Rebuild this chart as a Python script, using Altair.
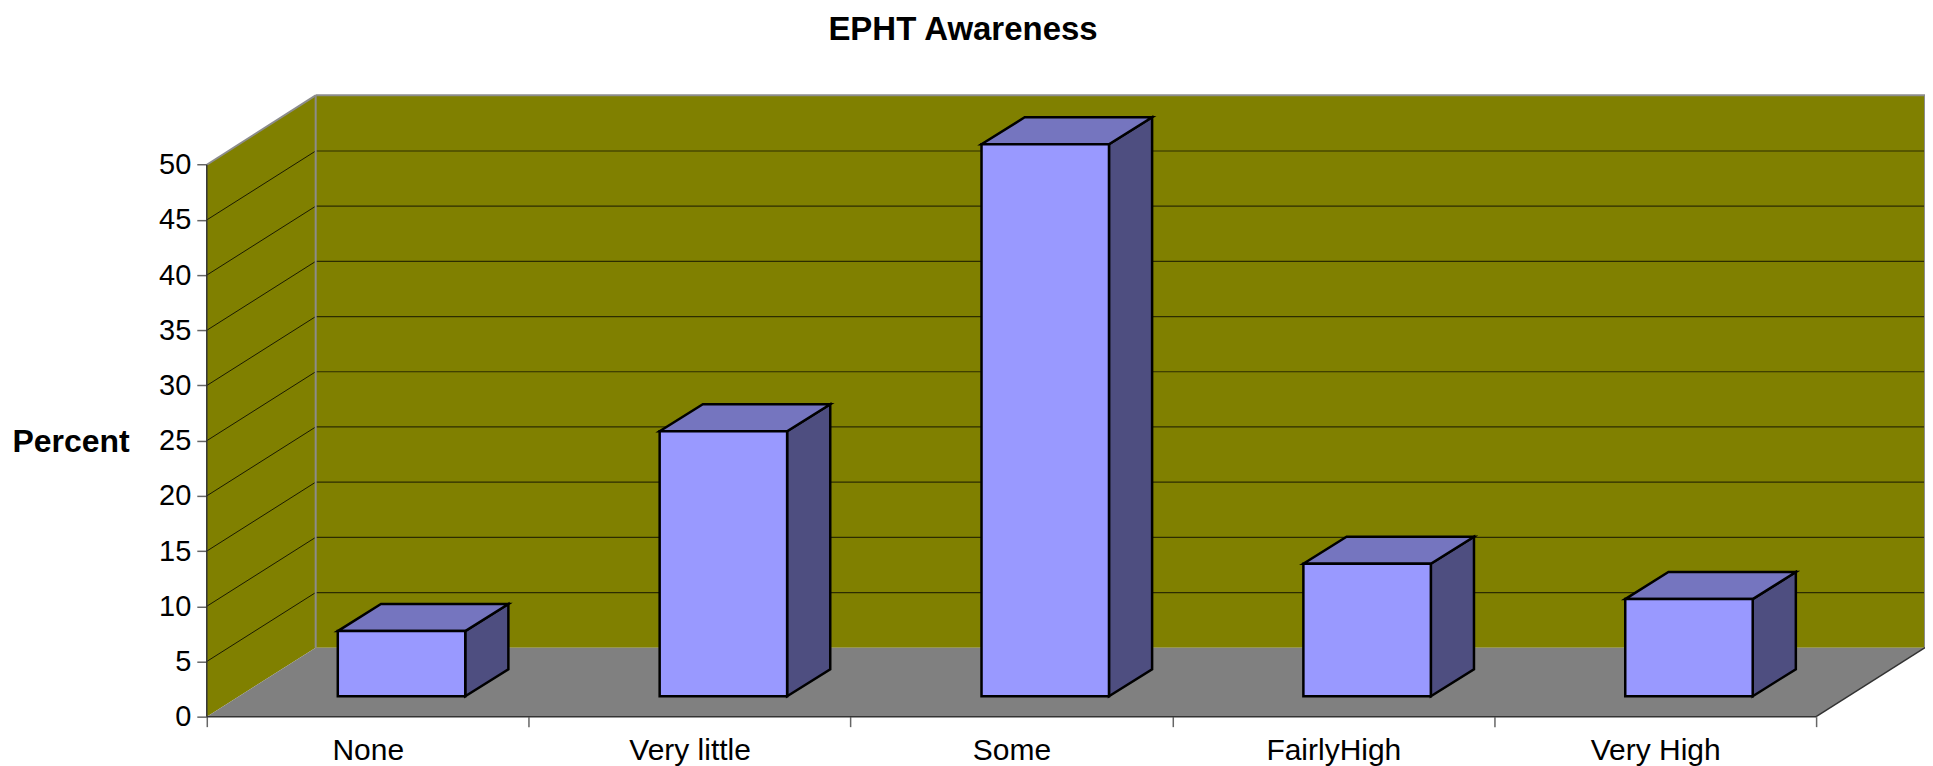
import altair as alt
import pandas as pd

categories = ["None", "Very little", "Some", "FairlyHigh", "Very High"]
percent = [5.9, 24, 50, 12, 8.8]
y_ticks = [0, 5, 10, 15, 20, 25, 30, 35, 40, 45, 50]
chart_title = "EPHT Awareness"
y_title = "Percent"

# view geometry, in axis units
N = len(categories)
DX, DY = 109 / 322.2, 69 / 11.05          # depth of the box
XMAX, YMAX = N + DX, 622 / 11.05
BAR_W, BAR_OFF = 0.396, 0.105             # bar width, shift to the right of the category centre
BAR_BASE = 1.85                           # bar sits forward on the floor
BDX, BDY = 0.134, 2.45                    # depth of a bar
FONT = "Liberation Sans"
WALL, FLOOR, EDGE = "#808000", "#808080", "#8c8c8c"
FRONT, TOP, SIDE = "#9999ff", "#7575bf", "#4e4e80"

x_axis = alt.Axis(
    values=[i / 2 for i in range(2 * N + 1)],
    labelExpr="datum.value % 1 ? " + str(categories) + "[floor(datum.value)] : ''",
    tickOpacity={"condition": {"test": "datum.value % 1 === 0", "value": 1}, "value": 0},
    domain=False, grid=False, tickSize=10, tickColor="#666666", tickWidth=1.5,
    labelFont=FONT, labelFontSize=30, labelColor="black", labelPadding=9,
    labelOverlap=False, labelBound=False, labelFlush=False)
y_axis = alt.Axis(
    values=y_ticks, domain=False, grid=False, tickSize=10, tickColor="#666666", tickWidth=1.5,
    labelFont=FONT, labelFontSize=29, labelColor="black", labelPadding=6, labelOverlap=False,
    labelBound=False, labelFlush=False,
    titleAngle=0, titleFont=FONT, titleFontSize=32, titleFontWeight="bold",
    titleColor="black", titleAlign="left", titleBaseline="middle", titleX=-195, titleY=347)


def X(f):
    return alt.X(f"{f}:Q", scale=alt.Scale(domain=[0, XMAX], nice=False, zero=False),
                 axis=x_axis, stack=None, title=None)


def Y(f):
    return alt.Y(f"{f}:Q", scale=alt.Scale(domain=[0, YMAX], nice=False, zero=False),
                 axis=y_axis, stack=None, title=y_title)


def seg(rows, color, width):
    d = pd.DataFrame(rows, columns=["a", "b", "a2", "b2"])
    return alt.Chart(d).mark_rule(color=color, strokeWidth=width).encode(
        x=X("a"), x2=alt.X2("a2"), y=Y("b"), y2=alt.Y2("b2"))


# walls and floor
back = alt.Chart(pd.DataFrame([dict(a=DX, a2=XMAX, b=DY, b2=YMAX)])).mark_rect(color=WALL).encode(
    x=X("a"), x2=alt.X2("a2"), y=Y("b"), y2=alt.Y2("b2"))
side_wall = alt.Chart(pd.DataFrame([dict(a=0, b=0, b2=50), dict(a=DX, b=DY, b2=50 + DY)])).mark_area(
    color=WALL, orient="vertical").encode(x=X("a"), y=Y("b"), y2=alt.Y2("b2"))
floor = alt.Chart(pd.DataFrame([dict(b=0, a=0, a2=N), dict(b=DY, a=DX, a2=XMAX)])).mark_area(
    color=FLOOR, orient="horizontal").encode(y=Y("b"), x=X("a"), x2=alt.X2("a2"))

# gridlines on both walls
levels = [t for t in y_ticks if 0 < t < 50]
grid_side = seg([(0, t, DX, t + DY) for t in levels], "#1a1a00", 1)
grid_back = seg([(DX, t + DY, XMAX, t + DY) for t in levels], "#2c2c00", 1.2)

# frame lines
frame_gray = seg([(DX, DY, DX, YMAX), (DX, YMAX, XMAX, YMAX), (0, 50, DX, YMAX), (XMAX, DY, XMAX, YMAX)], EDGE, 2)
frame_dark = seg([(0, 0, 0, 50), (0, 0, N, 0), (N, 0, XMAX, DY)], "#333333", 1.5)

# bars
stroke = dict(stroke="black", strokeWidth=2.5, strokeJoin="miter")
fronts, sides, tops = [], [], []
for i, (c, v) in enumerate(zip(categories, percent)):
    l = i + 0.5 + BAR_OFF - BAR_W / 2
    r = l + BAR_W
    fronts.append(dict(c=c, a=l, a2=r, b=BAR_BASE, b2=BAR_BASE + v))
    sides += [dict(c=c, a=r, b=BAR_BASE, b2=BAR_BASE + v),
              dict(c=c, a=r + BDX, b=BAR_BASE + BDY, b2=BAR_BASE + v + BDY)]
    tops += [dict(c=c, b=BAR_BASE + v, a=l, a2=r),
             dict(c=c, b=BAR_BASE + v + BDY, a=l + BDX, a2=r + BDX)]

bar_side = alt.Chart(pd.DataFrame(sides)).mark_area(color=SIDE, orient="vertical", line=False, **stroke).encode(
    x=X("a"), y=Y("b"), y2=alt.Y2("b2"), detail="c:N")
bar_top = alt.Chart(pd.DataFrame(tops)).mark_area(color=TOP, orient="horizontal", line=False, **stroke).encode(
    y=Y("b"), x=X("a"), x2=alt.X2("a2"), detail="c:N")
bar_front = alt.Chart(pd.DataFrame(fronts)).mark_rect(color=FRONT, **stroke).encode(
    x=X("a"), x2=alt.X2("a2"), y=Y("b"), y2=alt.Y2("b2"))

chart = alt.layer(
    back, side_wall, floor, grid_side, grid_back, frame_gray, frame_dark, bar_side, bar_top, bar_front
).properties(
    width=1720, height=622,
    title=alt.TitleParams(chart_title, font=FONT, fontSize=33, fontWeight="bold", color="black",
                          anchor="middle", dx=-103, offset=47),
    padding={"left": 199, "top": 87, "right": 0, "bottom": 49},
    autosize=alt.AutoSizeParams(type="none"),
    background="white",
).configure_view(stroke=None)

chart.save("out.html", embed_options={"renderer": "svg", "actions": False})
